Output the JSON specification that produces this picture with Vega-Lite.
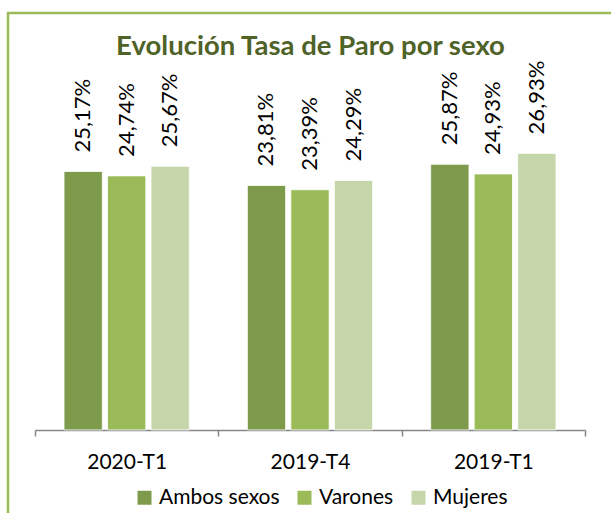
{
  "$schema": "https://vega.github.io/schema/vega-lite/v6.json",
  "width": 605,
  "height": 510,
  "autosize": {"type": "none"},
  "padding": {"left": 8, "top": 13, "right": 0, "bottom": 0},
  "background": "white",
  "config": {
    "view": {"stroke": "#9bbb59", "strokeWidth": 2.5},
    "font": "Lato",
    "locale": {"number": {"decimal": ",", "thousands": ".", "grouping": [3], "currency": ["", " €"]}}
  },
  "title": {
    "text": "Evolución Tasa de Paro por sexo",
    "font": "Lato",
    "fontSize": 27.5,
    "fontWeight": "bold",
    "color": "#4f6228",
    "anchor": "middle",
    "offset": -47
  },
  "data": {
    "values": [
      {"periodo": "2020-T1", "sexo": "Ambos sexos", "tasa": 0.2517},
      {"periodo": "2020-T1", "sexo": "Varones", "tasa": 0.2474},
      {"periodo": "2020-T1", "sexo": "Mujeres", "tasa": 0.2567},
      {"periodo": "2019-T4", "sexo": "Ambos sexos", "tasa": 0.2381},
      {"periodo": "2019-T4", "sexo": "Varones", "tasa": 0.2339},
      {"periodo": "2019-T4", "sexo": "Mujeres", "tasa": 0.2429},
      {"periodo": "2019-T1", "sexo": "Ambos sexos", "tasa": 0.2587},
      {"periodo": "2019-T1", "sexo": "Varones", "tasa": 0.2493},
      {"periodo": "2019-T1", "sexo": "Mujeres", "tasa": 0.2693}
    ]
  },
  "encoding": {
    "x": {
      "field": "periodo",
      "type": "nominal",
      "sort": ["2020-T1", "2019-T4", "2019-T1"],
      "scale": {"range": [27, 577], "paddingInner": 0, "paddingOuter": 0},
      "axis": {
        "title": null,
        "offset": -93,
        "tickBand": "extent",
        "domainColor": "#868686",
        "domainWidth": 1.5,
        "tickColor": "#868686",
        "tickWidth": 1.5,
        "tickSize": 6,
        "labelAngle": 0,
        "labelFont": "Lato",
        "labelFontSize": 21,
        "labelColor": "#000000",
        "labelPadding": 15
      }
    },
    "xOffset": {
      "field": "sexo",
      "type": "nominal",
      "sort": ["Ambos sexos", "Varones", "Mujeres"],
      "scale": {"paddingInner": 0.12, "paddingOuter": 0.667}
    },
    "y": {
      "field": "tasa",
      "type": "quantitative",
      "scale": {"domain": [-0.0906, 0.406], "nice": false, "zero": false},
      "axis": null
    }
  },
  "layer": [
    {
      "mark": {"type": "bar", "stroke": "white", "strokeWidth": 0.8},
      "encoding": {
        "color": {
          "field": "sexo",
          "type": "nominal",
          "sort": ["Ambos sexos", "Varones", "Mujeres"],
          "scale": {"domain": ["Ambos sexos", "Varones", "Mujeres"], "range": ["#7e9b4b", "#9bbb59", "#c5d6aa"]},
          "legend": {
            "title": null,
            "orient": "none",
            "direction": "horizontal",
            "legendX": 126,
            "legendY": 474,
            "symbolType": "square",
            "symbolSize": 196,
            "symbolStrokeWidth": 0,
            "labelFont": "Lato",
            "labelFontSize": 21,
            "labelColor": "#000000",
            "labelOffset": 4,
            "columnPadding": 14,
            "padding": 0
          }
        }
      }
    },
    {
      "mark": {"type": "text", "angle": -90, "align": "left", "baseline": "middle", "dx": 19, "font": "Lato", "fontSize": 22, "color": "#000000"},
      "encoding": {
        "text": {"field": "tasa", "type": "quantitative", "format": ".2%"}
      }
    }
  ]
}
